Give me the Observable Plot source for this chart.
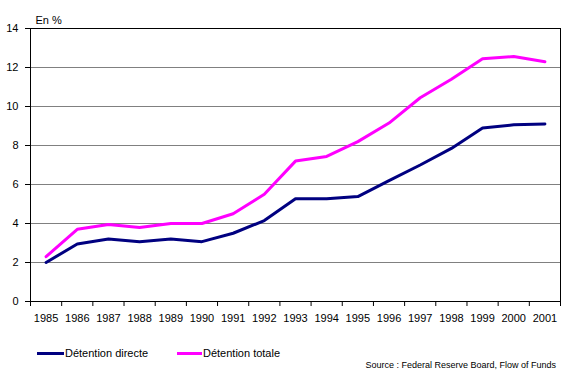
<!DOCTYPE html>
<html>
<head>
<meta charset="utf-8">
<script src="https://cdn.jsdelivr.net/npm/d3@7"></script>
<script src="https://cdn.jsdelivr.net/npm/@observablehq/plot@0.6"></script>
<style>
  body { margin: 0; background: #fff; font-family: "Liberation Sans", Arial, sans-serif; }
  #wrap { position: relative; width: 565px; height: 384px; overflow: hidden; }
  #legend { position: relative; width: 565px; height: 49px; font-size: 11px; color: #000; }
  .sw { position: absolute; height: 3px; }
  .lt { position: absolute; line-height: 12px; white-space: nowrap; }
  #source { position: absolute; right: 9px; top: 25px; font-size: 9px; white-space: nowrap; }
</style>
</head>
<body>
<div id="wrap">
  <div id="chart"></div>
  <div id="legend"></div>
</div>
<script>
const years = [1985, 1986, 1987, 1988, 1989, 1990, 1991, 1992, 1993, 1994, 1995, 1996, 1997, 1998, 1999, 2000, 2001];
const directe = [2.0, 2.95, 3.2, 3.07, 3.2, 3.07, 3.5, 4.15, 5.27, 5.27, 5.38, 6.2, 7.0, 7.85, 8.9, 9.06, 9.1];
const totale = [2.3, 3.7, 3.95, 3.8, 4.0, 4.0, 4.5, 5.5, 7.2, 7.44, 8.2, 9.15, 10.45, 11.4, 12.45, 12.56, 12.3];
const seriesNames = ["Détention directe", "Détention totale"];
const seriesColors = ["#000080", "#ff00ff"];
const yTicks = [0, 2, 4, 6, 8, 10, 12, 14];
const gridValues = [2, 4, 6, 8, 10, 12];
const unitLabel = "En %";
const sourceText = "Source : Federal Reserve Board, Flow of Funds";

const dDirecte = years.map((y, i) => ({year: y, v: directe[i]}));
const dTotale = years.map((y, i) => ({year: y, v: totale[i]}));
const boundaries = years.map(y => y - 0.5).concat([years[years.length - 1] + 0.5]);

const chart = Plot.plot({
  width: 565,
  height: 335,
  marginLeft: 30,
  marginRight: 5,
  marginTop: 28,
  marginBottom: 34,
  style: {fontFamily: "'Liberation Sans', Arial, sans-serif", fontSize: "11px", color: "#000", background: "#fff"},
  x: {type: "linear", domain: [years[0] - 0.5, years[years.length - 1] + 0.5]},
  y: {domain: [0, 14]},
  marks: [
    Plot.ruleY(gridValues, {stroke: "#808080", strokeWidth: 1}),
    Plot.frame({stroke: "#000", strokeWidth: 1}),
    Plot.axisY({ticks: yTicks, tickSize: 5, tickPadding: 7, label: null, tickFormat: "d", stroke: "#000"}),
    Plot.axisX({ticks: boundaries, tickSize: 5, tickFormat: () => "", label: null, stroke: "#000"}),
    Plot.axisX({ticks: years, tickSize: 0, tickPadding: 13, tickFormat: "d", label: null}),
    Plot.line(dDirecte, {x: "year", y: "v", stroke: seriesColors[0], strokeWidth: 3, strokeLinejoin: "miter"}),
    Plot.line(dTotale, {x: "year", y: "v", stroke: seriesColors[1], strokeWidth: 3, strokeLinejoin: "miter"}),
    Plot.text([unitLabel], {frameAnchor: "top-left", dx: 5, dy: -12, textAnchor: "start", fontSize: 11})
  ]
});
document.getElementById("chart").appendChild(chart);

const legend = document.getElementById("legend");
const swX = [37, 177];
const swW = [27, 25];
seriesNames.forEach((name, i) => {
  const sw = document.createElement("div");
  sw.className = "sw";
  sw.style.left = swX[i] + "px";
  sw.style.width = swW[i] + "px";
  sw.style.top = "17px";
  sw.style.background = seriesColors[i];
  legend.appendChild(sw);
  const t = document.createElement("div");
  t.className = "lt";
  t.style.left = (swX[i] + swW[i] + 1) + "px";
  t.style.top = "12px";
  t.textContent = name;
  legend.appendChild(t);
});
const src = document.createElement("div");
src.id = "source";
src.textContent = sourceText;
legend.appendChild(src);
</script>
</body>
</html>
